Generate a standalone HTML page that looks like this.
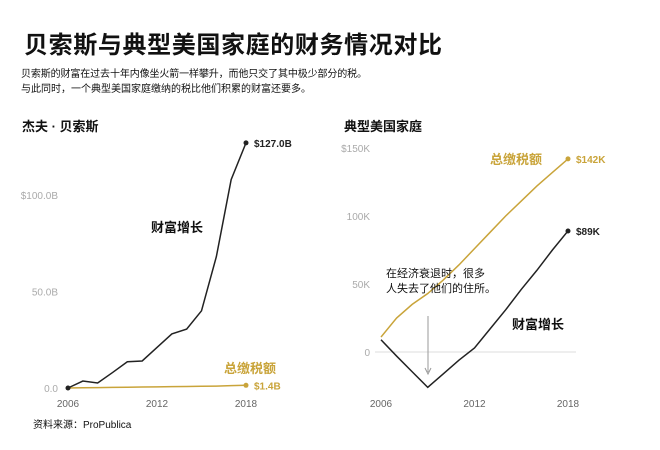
<!DOCTYPE html>
<html><head><meta charset="utf-8"><style>
body{margin:0;background:#fff;width:660px;height:445px;overflow:hidden;font-family:"Liberation Sans","Noto Sans CJK SC",sans-serif;}
svg text{font-family:"Liberation Sans","Noto Sans CJK SC",sans-serif;}
</style></head><body>
<svg width="660" height="445">
<text x="24" y="53" font-size="24" font-weight="bold" fill="#111" textLength="418">贝索斯与典型美国家庭的财务情况对比</text>
<text x="21" y="77" font-size="10" fill="#111" textLength="346">贝索斯的财富在过去十年内像坐火箭一样攀升，而他只交了其中极少部分的税。</text>
<text x="21" y="92" font-size="10" fill="#111">与此同时，一个典型美国家庭缴纳的税比他们积累的财富还要多。</text>
<text x="22" y="131" font-size="13" font-weight="bold" fill="#111">杰夫 · 贝索斯</text>
<text x="344" y="131" font-size="13" font-weight="bold" fill="#111">典型美国家庭</text>
<g id="left"></g><g id="right"></g>
<text x="33" y="428" font-size="10" fill="#111">资料来源：ProPublica</text>
</svg>
<script>
const years=[2006,2007,2008,2009,2010,2011,2012,2013,2014,2015,2016,2017,2018];
const bezosWealth=[0,3.6,2.6,8,13.6,14,21,28,30.5,40,68,108,127];
const bezosTax=[0,0.1,0.2,0.3,0.4,0.5,0.6,0.7,0.8,0.9,1.0,1.2,1.4];
const leftTicks=[0,50,100];
const leftTickLabels=["0.0","50.0B","$100.0B"];
const famWealth=[9,-3,-14.5,-26,-16,-6,3,17,31,46,60,75,89];
const famTax=[11,25,35,43,53,64,76,88,100,111,122,132,142];
const rightTicks=[0,50,100,150];
const rightTickLabels=["0","50K","100K","$150K"];
const xTicks=[2006,2012,2018];
const NS="http://www.w3.org/2000/svg";
function mk(p,t,a){const e=document.createElementNS(NS,t);for(const k in a)e.setAttribute(k,a[k]);p.appendChild(e);return e;}
const gold="#c9a43a",dark="#222";
// left
const L=document.getElementById('left');
const lx=y=>68+(y-2006)*(178/12), ly=v=>388-v*1.93;
leftTicks.forEach((t,i)=>{const e=mk(L,'text',{x:58,y:ly(t)+4,'font-size':10,fill:'#aaa','text-anchor':'end'});e.textContent=leftTickLabels[i];

});
xTicks.forEach(t=>{const e=mk(L,'text',{x:lx(t),y:407,'font-size':10,fill:'#666','text-anchor':'middle'});e.textContent=t;

});
let p=mk(L,'polyline',{points:years.map((y,i)=>lx(y)+','+ly(bezosTax[i])).join(' '),fill:'none',stroke:gold,'stroke-width':1.5});


p=mk(L,'polyline',{points:years.map((y,i)=>lx(y)+','+ly(bezosWealth[i])).join(' '),fill:'none',stroke:dark,'stroke-width':1.5});


let n=years.length-1;
let c=mk(L,'circle',{cx:lx(years[n]),cy:ly(bezosWealth[n]),r:2.5,fill:dark});


c=mk(L,'circle',{cx:lx(years[n]),cy:ly(bezosTax[n]),r:2.5,fill:gold});


c=mk(L,'circle',{cx:lx(2006),cy:ly(0),r:2.5,fill:dark});


let t=mk(L,'text',{x:lx(2018)+8,y:ly(bezosWealth[n])+4,'font-size':10,'font-weight':'bold',fill:dark});t.textContent='$'+bezosWealth[n]+'.0B';


t=mk(L,'text',{x:lx(2018)+8,y:ly(bezosTax[n])+4,'font-size':10,'font-weight':'bold',fill:gold});t.textContent='$'+bezosTax[n]+'B';


t=mk(L,'text',{x:151,y:232,'font-size':13,'font-weight':'bold',fill:'#111'});t.textContent='财富增长';


t=mk(L,'text',{x:224,y:373,'font-size':13,'font-weight':'bold',fill:gold});t.textContent='总缴税额';


// right
const R=document.getElementById('right');
const rx=y=>381+(y-2006)*(187/12), ry=v=>352-v*1.36;
let g=mk(R,'line',{x1:375,x2:576,y1:ry(0),y2:ry(0),stroke:'#ddd','stroke-width':1});


rightTicks.forEach((tk,i)=>{const e=mk(R,'text',{x:370,y:ry(tk)+4,'font-size':10,fill:'#aaa','text-anchor':'end'});e.textContent=rightTickLabels[i];

});
xTicks.forEach(tk=>{const e=mk(R,'text',{x:rx(tk),y:407,'font-size':10,fill:'#666','text-anchor':'middle'});e.textContent=tk;

});
p=mk(R,'polyline',{points:years.map((y,i)=>rx(y)+','+ry(famTax[i])).join(' '),fill:'none',stroke:gold,'stroke-width':1.5});


p=mk(R,'polyline',{points:years.map((y,i)=>rx(y)+','+ry(famWealth[i])).join(' '),fill:'none',stroke:dark,'stroke-width':1.5});


c=mk(R,'circle',{cx:rx(2018),cy:ry(famWealth[n]),r:2.5,fill:dark});


c=mk(R,'circle',{cx:rx(2018),cy:ry(famTax[n]),r:2.5,fill:gold});


t=mk(R,'text',{x:rx(2018)+8,y:ry(famWealth[n])+4,'font-size':10,'font-weight':'bold',fill:dark});t.textContent='$'+famWealth[n]+'K';


t=mk(R,'text',{x:rx(2018)+8,y:ry(famTax[n])+4,'font-size':10,'font-weight':'bold',fill:gold});t.textContent='$'+famTax[n]+'K';


t=mk(R,'text',{x:490,y:164,'font-size':13,'font-weight':'bold',fill:gold});t.textContent='总缴税额';


t=mk(R,'text',{x:512,y:329,'font-size':13,'font-weight':'bold',fill:'#111'});t.textContent='财富增长';


t=mk(R,'text',{x:386,y:277,'font-size':11,fill:'#111'});t.textContent='在经济衰退时，很多';


t=mk(R,'text',{x:386,y:292,'font-size':11,fill:'#111'});t.textContent='人失去了他们的住所。';


g=mk(R,'line',{x1:428,x2:428,y1:316,y2:372,stroke:'#999','stroke-width':1});


g=mk(R,'path',{d:'M425,368 L428,374 L431,368',fill:'none',stroke:'#999','stroke-width':1});


</script>
</body></html>
